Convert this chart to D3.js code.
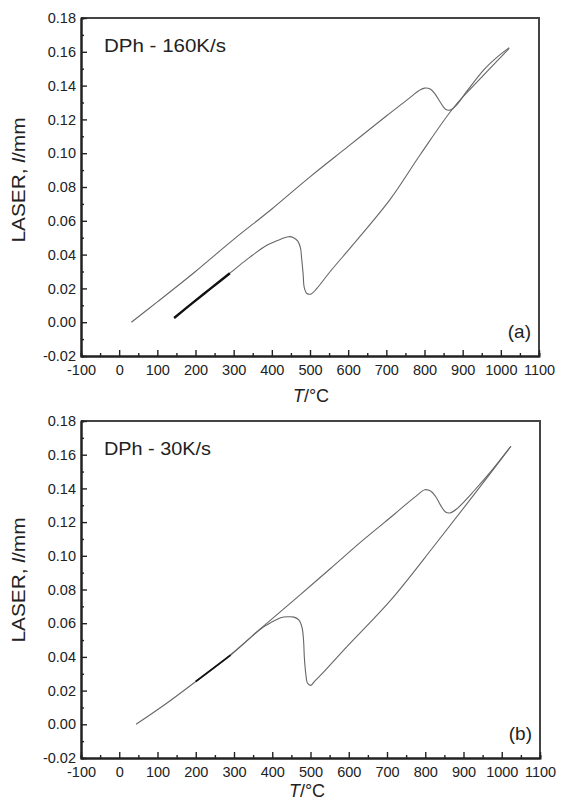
<!DOCTYPE html>
<html>
<head>
<meta charset="utf-8">
<script src="https://cdn.jsdelivr.net/npm/d3@7"></script>
<style>
  html, body { margin: 0; padding: 0; background: #fff; }
  svg { display: block; font-family: "Liberation Sans", Arial, sans-serif; }
  .axis text { font-size: 14.5px; fill: #222; }
  .axis .domain { stroke: #222; stroke-width: 2; }
  .axis line { stroke: #222; stroke-width: 1.4; }
</style>
</head>
<body>
<div id="chart"></div>
<script>
// tick values
const xTicks = [-100, 0, 100, 200, 300, 400, 500, 600, 700, 800, 900, 1000, 1100];
const xMinor = [-50, 50, 150, 250, 350, 450, 550, 650, 750, 850, 950, 1050];
const yTicks = [-0.02, 0.00, 0.02, 0.04, 0.06, 0.08, 0.10, 0.12, 0.14, 0.16, 0.18];
const yMinor = [-0.01, 0.01, 0.03, 0.05, 0.07, 0.09, 0.11, 0.13, 0.15, 0.17];

// [T in °C, l in mm]
const heating160 = [[32, 0.000], [100, 0.012], [200, 0.030], [300, 0.049], [400, 0.067], [500, 0.086],
  [600, 0.104], [700, 0.122], [740, 0.129], [765, 0.1335], [785, 0.137], [800, 0.1385], [815, 0.138],
  [828, 0.135], [842, 0.130], [855, 0.126], [867, 0.1255], [882, 0.128], [912, 0.137], [956, 0.1495],
  [991, 0.157], [1022, 0.1625]];
const cooling160 = [[1022, 0.162], [950, 0.145], [878, 0.1275], [790, 0.0995], [711, 0.073], [615, 0.0465],
  [553, 0.030], [518, 0.020], [503, 0.0167], [492, 0.017], [485, 0.0205], [482, 0.0285], [478, 0.038],
  [475, 0.044], [468, 0.048], [457, 0.050], [444, 0.0506], [422, 0.049], [387, 0.0455], [335, 0.0372],
  [290, 0.029], [240, 0.020], [190, 0.011], [144, 0.0025]];

const heating30 = [[44, 0.000], [124, 0.0125], [200, 0.0254], [291, 0.0413], [374, 0.0577], [466, 0.0755],
  [553, 0.0926], [641, 0.110], [720, 0.1248], [755, 0.1316], [777, 0.1356], [799, 0.1392], [814, 0.1384],
  [827, 0.1352], [841, 0.1296], [853, 0.126], [864, 0.1254], [882, 0.1278], [930, 0.1392], [974, 0.1507],
  [1024, 0.165]];
const cooling30 = [[1024, 0.165], [930, 0.137], [825, 0.1064], [711, 0.074], [597, 0.0465], [536, 0.0314],
  [510, 0.0254], [501, 0.0231], [492, 0.0245], [488, 0.0294], [484, 0.0394], [482, 0.0493], [478, 0.0573],
  [470, 0.0618], [457, 0.0636], [440, 0.0638], [422, 0.0632], [400, 0.0608], [374, 0.0573], [291, 0.041],
  [200, 0.0254]];

const svg = d3.select('#chart').append('svg')
    .attr('width', 561)
    .attr('height', 803);

function drawPanel(p) {
    const x = d3.scaleLinear().domain([-100, 1100]).range([p.left, p.right]);
    const y = d3.scaleLinear().domain([-0.02, 0.18]).range([p.bottom, p.top]);

    const g = svg.append('g');

    // frame (top + right)
    g.append('path')
        .attr('d', `M${p.left},${p.top}H${p.right}V${p.bottom}`)
        .attr('fill', 'none')
        .attr('stroke', '#444')
        .attr('stroke-width', 2);

    // minor ticks first, then the main axes
    g.append('g').attr('class', 'axis')
        .attr('transform', `translate(0,${p.bottom})`)
        .call(d3.axisBottom(x).tickValues(xMinor).tickSize(-3).tickFormat(''));
    g.append('g').attr('class', 'axis')
        .attr('transform', `translate(${p.left},0)`)
        .call(d3.axisLeft(y).tickValues(yMinor).tickSize(-3).tickFormat(''));

    g.append('g').attr('class', 'axis')
        .attr('transform', `translate(0,${p.bottom})`)
        .call(d3.axisBottom(x).tickValues(xTicks).tickSizeInner(-6).tickSizeOuter(0)
            .tickPadding(9).tickFormat(d => d));
    g.append('g').attr('class', 'axis')
        .attr('transform', `translate(${p.left},0)`)
        .call(d3.axisLeft(y).tickValues(yTicks).tickSizeInner(-6).tickSizeOuter(0)
            .tickPadding(5).tickFormat(d => d.toFixed(2)));

    const line = d3.line()
        .x(d => x(d[0]))
        .y(d => y(d[1]))
        .curve(d3.curveCatmullRom.alpha(0.5));

    g.append('path').datum(p.heating)
        .attr('d', line).attr('fill', 'none')
        .attr('stroke', '#666').attr('stroke-width', 1.1);
    g.append('path').datum(p.cooling)
        .attr('d', line).attr('fill', 'none')
        .attr('stroke', '#666').attr('stroke-width', 1.1);
    // dense end of the cooling run shows darker
    g.append('path').datum(p.cooling.filter(d => d[0] <= p.darkTo))
        .attr('d', line).attr('fill', 'none')
        .attr('stroke', '#111').attr('stroke-width', p.darkWidth);

    // texts
    g.append('text')
        .attr('x', p.left + 23).attr('y', p.top + 34)
        .attr('font-size', 18).attr('fill', '#222')
        .attr('textLength', p.titleLen).attr('lengthAdjust', 'spacingAndGlyphs')
        .text(p.title);

    g.append('text')
        .attr('x', p.right - 8).attr('y', p.bottom - 18)
        .attr('text-anchor', 'end')
        .attr('font-size', 19).attr('fill', '#222')
        .text(p.tag);

    const yl = g.append('text')
        .attr('transform', `translate(25,${p.labelY}) rotate(-90)`)
        .attr('text-anchor', 'middle')
        .attr('font-size', 18).attr('fill', '#222')
        .attr('textLength', 125).attr('lengthAdjust', 'spacingAndGlyphs');
    yl.append('tspan').text('LASER, ');
    yl.append('tspan').attr('font-style', 'italic').text('l');
    yl.append('tspan').text('/mm');

    const xl = g.append('text')
        .attr('x', p.xLabelX).attr('y', p.xLabelY)
        .attr('text-anchor', 'middle')
        .attr('font-size', 18).attr('fill', '#222');
    xl.append('tspan').attr('font-style', 'italic').text('T');
    xl.append('tspan').text('/°C');
}

drawPanel({
    left: 81, right: 539, top: 18, bottom: 356,
    heating: heating160, cooling: cooling160, darkTo: 300, darkWidth: 2.4,
    title: 'DPh - 160K/s', titleLen: 122, tag: '(a)', labelY: 180, xLabelX: 311, xLabelY: 402
});

drawPanel({
    left: 81, right: 540, top: 421, bottom: 758,
    heating: heating30, cooling: cooling30, darkTo: 300, darkWidth: 1.6,
    title: 'DPh - 30K/s', titleLen: 107, tag: '(b)', labelY: 580, xLabelX: 307, xLabelY: 797
});
</script>
</body>
</html>
